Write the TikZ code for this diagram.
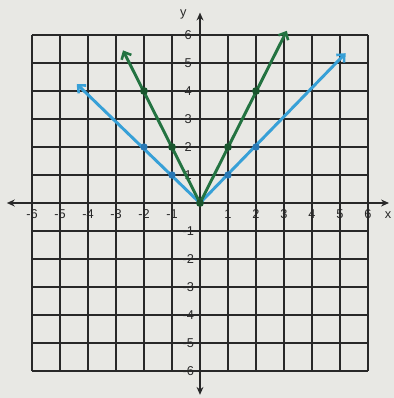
\documentclass[tikz,border=0pt]{standalone}
\usepackage{fontspec}
\setmainfont{Liberation Sans}
\usetikzlibrary{arrows.meta}
\definecolor{paper}{RGB}{232,232,228}
\definecolor{ink}{RGB}{40,40,40}
\definecolor{bluel}{RGB}{55,160,215}
\definecolor{bluedot}{RGB}{40,120,180}
\definecolor{greenl}{RGB}{35,115,65}
\definecolor{greendot}{RGB}{25,85,45}
\tikzset{
  gridline/.style={draw=ink, line width=0.0714cm},
  axisline/.style={draw=ink, line width=0.0714cm, {Stealth[length=8pt,width=7pt]}-{Stealth[length=8pt,width=7pt]}},
  ticklab/.style={font=\fontsize{13}{13}\selectfont, text=ink, inner sep=0pt},
  bline/.style={draw=bluel, line width=3pt, line join=round, {Straight Barb[length=6pt,width=11pt,line width=2.6pt]}-{Straight Barb[length=6pt,width=11pt,line width=2.6pt]}},
  gline/.style={draw=greenl, line width=3pt, line join=round, {Straight Barb[length=6pt,width=11pt,line width=2.6pt]}-{Straight Barb[length=6pt,width=11pt,line width=2.6pt]}},
  bdot/.style={circle, fill=bluedot, minimum size=7.5pt, inner sep=0pt},
  gdot/.style={circle, fill=greendot, minimum size=8pt, inner sep=0pt},
}
\begin{document}
\begin{tikzpicture}
\fill[paper] (-7.142857,-6.964286) rectangle (6.928571,7.25);
\useasboundingbox (-7.142857,-6.964286) rectangle (6.928571,7.25);
% grid
\draw[gridline] (-6,-6) grid (6,6);
% axes
\coordinate (xl) at (-6.9,0);
\coordinate (xr) at (6.75,0);
\coordinate (yb) at (0,-6.85);
\coordinate (yt) at (0,6.8);
\draw[axisline] (xl) -- (xr);
\draw[axisline] (yb) -- (yt);
\node[ticklab] (xlab) at (6.72,-0.45) {x};
\node[ticklab] (ylab) at (-0.6,6.75) {y};
% tick labels
\foreach \i in {-6,...,-1,1,2,...,6}{
  \node[ticklab] (xt\i) at (\i,-0.4) {\i};
  \node[ticklab] (yt\i) at (-0.42,\i) {\i};
}
% blue graph y=|x|
\coordinate (O) at (0,0);
\coordinate (bL) at (-4.4,4.25);
\coordinate (bR) at (5.2,5.35);
\draw[bline] (bL) -- (O) -- (bR);
\node[bdot] (b1) at (-2,2) {};
\node[bdot] (b2) at (-1,1) {};
\node[bdot] (b3) at (1,1) {};
\node[bdot] (b4) at (2,2) {};
% green graph y=2|x|
\coordinate (gL) at (-2.75,5.45);
\coordinate (gR) at (3.1,6.15);
\draw[gline] (gL) -- (O) -- (gR);
\node[gdot] (g1) at (-2,4) {};
\node[gdot] (g2) at (-1,2) {};
\node[gdot] (g3) at (1,2) {};
\node[gdot] (g4) at (2,4) {};
\node[gdot] (g0) at (0,0) {};
\end{tikzpicture}
\end{document}
